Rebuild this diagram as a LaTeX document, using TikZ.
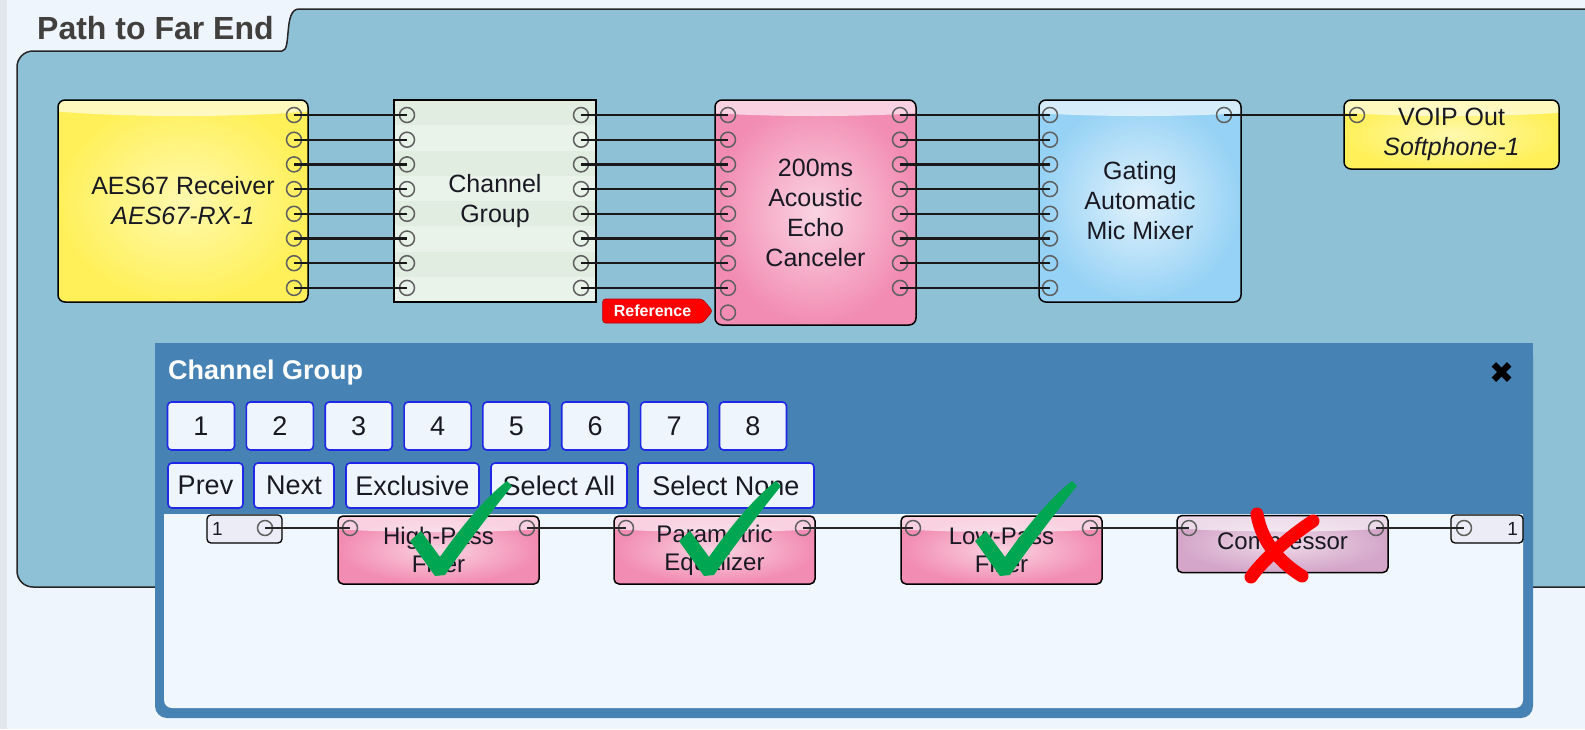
\documentclass[tikz,border=0pt]{standalone}
\usepackage{fontspec}
\setmainfont{Liberation Sans}
\newfontfamily\symfont{DejaVu Sans}
\usetikzlibrary{shapes.symbols}
\definecolor{bgc}{RGB}{238,245,252}
\definecolor{stripc}{RGB}{226,231,237}
\definecolor{panelc}{RGB}{143,193,214}
\definecolor{popc}{RGB}{70,130,180}
\definecolor{innerc}{RGB}{240,247,255}
\definecolor{btnc}{RGB}{238,245,253}
\definecolor{btnb}{RGB}{30,40,230}
\definecolor{titlec}{RGB}{66,64,62}
\definecolor{portc}{RGB}{95,95,95}
\definecolor{yel}{RGB}{255,240,90}
\definecolor{yell}{RGB}{255,249,175}
\definecolor{pinkc}{RGB}{242,140,178}
\definecolor{pinkl}{RGB}{250,212,226}
\definecolor{bluec}{RGB}{150,210,245}
\definecolor{bluel}{RGB}{226,242,252}
\definecolor{chgA}{RGB}{225,237,225}
\definecolor{chgB}{RGB}{234,243,234}
\definecolor{mauvec}{RGB}{212,166,201}
\definecolor{mauvel}{RGB}{238,218,232}
\definecolor{checkc}{RGB}{0,166,81}
\definecolor{xred}{RGB}{255,0,0}
\definecolor{ioc}{RGB}{236,236,246}
\definecolor{txtc}{RGB}{25,25,35}
\tikzset{
  blk/.style={draw=black, line width=1.5pt, rounded corners=7pt, align=center,
    font=\fontsize{25}{30}\selectfont, text=txtc, inner sep=0pt},
  gloss/.style={path picture={\fill[white,opacity=0.6] (path picture bounding box.north)
      ellipse [x radius=180pt, y radius=16pt];}},
  yelbox/.style={blk, inner color=yell, outer color=yel, gloss},
  pinkbox/.style={blk, inner color=pinkl, outer color=pinkc, gloss},
  bluebox/.style={blk, inner color=bluel, outer color=bluec, gloss},
  mauvebox/.style={blk, inner color=mauvel, outer color=mauvec, gloss},
  smallblk/.style={font=\fontsize{24}{28}\selectfont, rounded corners=5pt},
  port/.style={circle, draw=portc, line width=1.5pt, minimum size=15pt, inner sep=0pt},
  wire/.style={draw=black!90, line width=2.2pt},
  thinwire/.style={draw=black!85, line width=1.6pt},
  btn/.style={draw=btnb, line width=1.6pt, fill=btnc, rounded corners=4pt, inner sep=0pt,
    font=\fontsize{27}{27}\selectfont, text=txtc},
  iob/.style={draw=black, line width=1.3pt, fill=ioc, rounded corners=4pt, inner sep=5pt,
    minimum height=28pt, font=\fontsize{19}{19}\selectfont, text=txtc},
  xstroke/.style={draw=xred, line width=13pt, line cap=round},
  pics/checkm/.style={code={
    \fill[checkc] (-29,-31) -- (-18,-41) -- (1,-15) .. controls (22,-45) and (47,-75) .. (68,-91)
      -- (73,-86) .. controls (52,-60) and (26,-26) .. (6,3) -- (-4,4) -- cycle;}}
}
\begin{document}
\begin{tikzpicture}[x=1pt,y=-1pt]
\useasboundingbox (0,0) rectangle (1585,729);
\clip (0,0) rectangle (1585,729);
\fill[bgc] (0,0) rectangle (1585,729);
\fill[stripc] (0,0) rectangle (7,729);

% title
\node[anchor=west, font=\bfseries\fontsize{32}{32}\selectfont, text=titlec, inner sep=0pt] (title) at (37,28) {Path to Far End};

% main panel with tab
\draw[fill=panelc, draw=black!85, line width=1.5pt, rounded corners=16pt]
  (1600,587) -- (17,587) -- (17,51) -- (266,51) .. controls (292,51) and (283,9) .. (315,9) -- (1600,9);

% channel group stripes
\foreach \k in {0,...,7}{
  \pgfmathsetmacro\ya{100+25.25*\k}
  \pgfmathsetmacro\yb{100+25.25*(\k+1)}
  \ifodd\k \fill[chgB] (394,\ya) rectangle (596,\yb); \else \fill[chgA] (394,\ya) rectangle (596,\yb); \fi
}

% blocks
\node[yelbox, minimum width=250pt, minimum height=202pt] (aes) at (183,201) {AES67 Receiver\\\textit{AES67-RX-1}};
\node[draw=black, line width=1.5pt, minimum width=202pt, minimum height=202pt, align=center,
  font=\fontsize{25}{30}\selectfont, text=txtc, inner sep=0pt] (chg) at (495,201) {Channel\\Group};
\node[pinkbox, minimum width=201pt, minimum height=225pt] (aec) at (815.5,212.5) {200ms\\Acoustic\\Echo\\Canceler};
\node[bluebox, minimum width=202pt, minimum height=202pt] (amm) at (1140,201) {Gating\\Automatic\\Mic Mixer};
\node[yelbox, minimum width=215pt, minimum height=69pt] (voip) at (1451.5,134.5) {VOIP Out\\\textit{Softphone-1}};

% ports
\foreach \i in {1,...,8}{
  \pgfmathsetmacro\yy{115+24.7*(\i-1)}
  \node[port] (aeso\i) at (294,\yy) {};
  \node[port] (chgi\i) at (407,\yy) {};
  \node[port] (chgo\i) at (581,\yy) {};
  \node[port] (aeci\i) at (728,\yy) {};
  \node[port] (aeco\i) at (900,\yy) {};
  \node[port] (ammi\i) at (1050,\yy) {};
}
\node[port] (aeci9) at (728,312.6) {};
\node[port] (ammo) at (1224,115) {};
\node[port] (voipi) at (1357,115) {};

% wires
\foreach \i in {1,...,8}{
  \draw[wire] (aeso\i.center) -- (chgi\i.center);
  \draw[wire] (chgo\i.center) -- (aeci\i.center);
  \draw[wire] (aeco\i.center) -- (ammi\i.center);
}
\draw[wire] (ammo.center) -- (voipi.center);

% reference label
\node[signal, signal to=east, signal pointer angle=100, fill=xred, draw=red!70!black, line width=0.6pt,
  rounded corners=3pt, minimum width=110pt, minimum height=24pt, inner sep=0pt, anchor=east, text=white,
  font=\bfseries\fontsize{16}{16}\selectfont] (ref) at (713,311) {Reference};

% popup
\fill[popc, rounded corners=12pt] (155,343) rectangle (1533,718);
\fill[popc] (155,343) rectangle (1533,420);
\fill[innerc, rounded corners=8pt] (164,514) rectangle (1523,708);
\fill[innerc] (164,514) rectangle (1523,540);
\node[anchor=west, text=white, font=\bfseries\fontsize{27}{27}\selectfont, inner sep=0pt] (cgtitle) at (168,373) {Channel Group};
\node[font=\symfont\fontsize{30}{30}\selectfont, inner sep=0pt] (close) at (1502,373) {✖};

\foreach \k in {1,...,8}{
  \node[btn, minimum width=67pt, minimum height=48pt] (b\k) at ({201+78.85*(\k-1)},426) {\k};
}
\node[btn, minimum width=75pt, minimum height=45pt] (bprev) at (205.5,485.5) {Prev};
\node[btn, minimum width=80pt, minimum height=45pt] (bnext) at (294,485.5) {Next};
\node[btn, minimum width=133pt, minimum height=45pt] (bexcl) at (412.5,485.5) {Exclusive};
\node[btn, minimum width=136pt, minimum height=45pt] (ball) at (559,485.5) {Select All};
\node[btn, minimum width=176pt, minimum height=45pt] (bnone) at (726,485.5) {Select None};

% inner chain
\node[iob, text width=65pt, align=left] (inblk) at (244.5,529) {1};
\node[iob, text width=62pt, align=right] (outblk) at (1487,529) {1};
\node[pinkbox, smallblk, minimum width=201pt, minimum height=68pt] (hpf) at (438.5,550) {High-Pass\\Filter};
\node[pinkbox, smallblk, minimum width=201pt, minimum height=68pt] (peq) at (714.5,550) {Parametric\\Equalizer};
\node[pinkbox, smallblk, minimum width=201pt, minimum height=68pt] (lpf) at (1001.5,550) {Low-Pass\\Filter};
\node[mauvebox, smallblk, minimum width=211pt, minimum height=57pt] (cmp) at (1282.5,544) {Compressor};

\node[port] (inp) at (265,528) {};
\node[port] (hpfi) at (350,528) {};
\node[port] (hpfo) at (527,528) {};
\node[port] (peqi) at (626,528) {};
\node[port] (peqo) at (803,528) {};
\node[port] (lpfi) at (913,528) {};
\node[port] (lpfo) at (1090,528) {};
\node[port] (cmpi) at (1189,528) {};
\node[port] (cmpo) at (1376,528) {};
\node[port] (outp) at (1464,528) {};

\draw[thinwire] (inp.center) -- (hpfi.center);
\draw[thinwire] (hpfo.center) -- (peqi.center);
\draw[thinwire] (peqo.center) -- (lpfi.center);
\draw[thinwire] (lpfo.center) -- (cmpi.center);
\draw[thinwire] (cmpo.center) -- (outp.center);

% marks
\pic at (439,572) {checkm};
\pic at (708,572) {checkm};
\pic at (1004,572) {checkm};
\draw[xstroke] (1257,514) .. controls (1262,545) and (1284,565) .. (1302,576);
\draw[xstroke] (1313,521) .. controls (1290,536) and (1263,560) .. (1251,577);
\end{tikzpicture}
\end{document}
